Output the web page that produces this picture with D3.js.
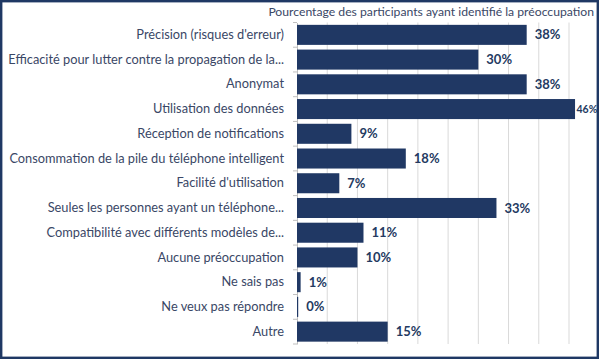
<!DOCTYPE html>
<html>
<head>
<meta charset="utf-8">
<script src="https://cdn.jsdelivr.net/npm/d3@7"></script>
<style>
  body { margin: 0; background: #fff; }
  svg { display: block; }
</style>
</head>
<body>
<div id="chart"></div>
<script>
const categories = [
  "Précision (risques d'erreur)",
  "Efficacité pour lutter contre la propagation de la...",
  "Anonymat",
  "Utilisation des données",
  "Réception de notifications",
  "Consommation de la pile du téléphone intelligent",
  "Facilité d'utilisation",
  "Seules les personnes ayant un téléphone...",
  "Compatibilité avec différents modèles de...",
  "Aucune préoccupation",
  "Ne sais pas",
  "Ne veux pas répondre",
  "Autre"
];
const values = [0.38, 0.30, 0.38, 0.46, 0.09, 0.18, 0.07, 0.33, 0.11, 0.10, 0.006, 0.002, 0.15];
const gridTicks = [0, 0.05, 0.10, 0.15, 0.20, 0.25, 0.30, 0.35, 0.40, 0.45];
const title = "Pourcentage des participants ayant identifié la préoccupation";

const W = 600, H = 361;
const fontFamily = "Lato, 'Open Sans', sans-serif";
const barColor = "#203864";

const svg = d3.select("#chart")
  .append("svg")
  .attr("width", W)
  .attr("height", H);

svg.append("rect")
  .attr("width", W).attr("height", H)
  .attr("fill", "#fff");

const x = d3.scaleLinear()
  .domain([0, 0.45])
  .range([297, 569]);

const y = d3.scaleBand()
  .domain(categories)
  .range([22.5, 344])
  .paddingInner(0.19)
  .paddingOuter(0.095);

// gridlines
svg.append("g")
  .selectAll("line")
  .data(gridTicks.slice(1))
  .join("line")
  .attr("x1", d => x(d)).attr("x2", d => x(d))
  .attr("y1", 22.5).attr("y2", 344)
  .attr("stroke", "#d9d9d9")
  .attr("stroke-width", 1);

// category axis
const yAxis = svg.append("g")
  .attr("transform", `translate(${x(0)},0)`)
  .call(d3.axisLeft(y).tickSize(0).tickPadding(13).tickSizeOuter(0));

yAxis.select(".domain").attr("stroke", "#bfbfbf");
yAxis.selectAll("text")
  .attr("font-family", fontFamily)
  .attr("font-size", "12.8px")
  .attr("fill", "#3a4766");

// boundary ticks
const step = y.step();
svg.append("g")
  .selectAll("line")
  .data(d3.range(categories.length + 1))
  .join("line")
  .attr("x1", x(0) - 4).attr("x2", x(0))
  .attr("y1", i => y.range()[0] + i * step)
  .attr("y2", i => y.range()[0] + i * step)
  .attr("stroke", "#bfbfbf");

// bars
svg.append("g")
  .selectAll("rect")
  .data(values)
  .join("rect")
  .attr("x", x(0))
  .attr("y", (d, i) => y(categories[i]))
  .attr("width", d => x(d) - x(0))
  .attr("height", y.bandwidth())
  .attr("fill", barColor);

// value labels
const fmt = d3.format(".0%");
svg.append("g")
  .selectAll("text")
  .data(values)
  .join("text")
  .attr("x", d => x(d) + (x(d) > 560 ? 1.5 : 8))
  .attr("y", (d, i) => y(categories[i]) + y.bandwidth() / 2)
  .attr("dy", "0.35em")
  .attr("font-family", fontFamily)
  .attr("font-weight", 700)
  .attr("font-size", d => x(d) > 560 ? "10.5px" : "13px")
  .attr("fill", "#243a61")
  .text(d => fmt(d));

// title
svg.append("text")
  .attr("x", 594)
  .attr("y", 16)
  .attr("text-anchor", "end")
  .attr("font-family", fontFamily)
  .attr("font-size", "12.2px")
  .attr("fill", "#3a4766")
  .text(title);

// outer border
svg.append("rect")
  .attr("x", 1.2).attr("y", 1.2)
  .attr("width", W - 3.4).attr("height", H - 4.4)
  .attr("fill", "none")
  .attr("stroke", "#1f3864")
  .attr("stroke-width", 2.4);
</script>
</body>
</html>
